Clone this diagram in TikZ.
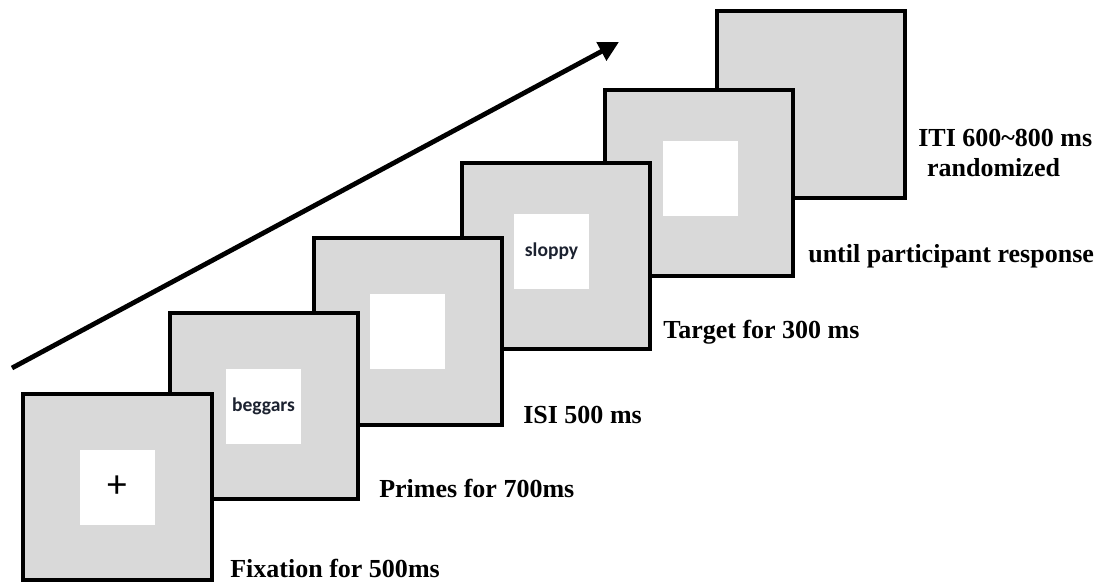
\documentclass[tikz,border=0pt]{standalone}
\usepackage{fontspec}
\setmainfont{Liberation Serif}
\newfontfamily\stimfont{Carlito}
\usetikzlibrary{positioning,arrows.meta,shadows}

\definecolor{scrgray}{HTML}{D9D9D9}
\definecolor{stimtxt}{HTML}{1C2230}

\begin{document}
\begin{tikzpicture}[
    x=0.25mm, y=-0.25mm,
    scr/.style={draw=black, line width=1mm, fill=scrgray, minimum width=47mm, minimum height=46.5mm,
                drop shadow={opacity=0.3, shadow xshift=0.6mm, shadow yshift=-0.6mm}},
    stim/.style={fill=white, minimum size=18.75mm, inner sep=0pt, text=stimtxt,
                 font=\stimfont\bfseries\fontsize{13.9}{16}\selectfont},
    lbl/.style={anchor=base west, inner sep=0pt, font=\bfseries\fontsize{18.5}{20.5}\selectfont},
    flow/.style={-{Triangle[length=5mm, width=5mm]}, line width=1.2mm}
]

    \useasboundingbox (0,0) rectangle (1100,582);

    % Time arrow
    \coordinate (tstart) at (12,368);
    \coordinate (tend) at (619,42);
    \draw[flow] (tstart) -- (tend);

    % Screens, back to front
    \node[scr] (s6) at (810.5,104.5) {};
    \node[scr] (s5) at (698.5,183) {};
    \node[scr] (s4) at (555.5,256) {};
    \node[scr] (s3) at (407.5,331.5) {};
    \node[scr] (s2) at (263.5,406) {};
    \node[scr] (s1) at (117.5,487) {};

    % Stimuli
    \node[stim] (w5) at ([xshift=0.5mm,yshift=1.2mm]s5.center) {};
    \node[stim] (w4) at ([xshift=-1mm,yshift=1.1mm]s4.center) {sloppy};
    \node[stim] (w3) at (s3.center) {};
    \node[stim] (w2) at (s2.center) {beggars};
    \node[stim, font=\stimfont\fontsize{28}{30}\selectfont, text=black] (w1) at (s1.center) {+};

    % Labels
    \node[lbl] (t1) at (230,577) {Fixation for 500ms};
    \node[lbl] (t2) at (379,497) {Primes for 700ms};
    \node[lbl] (t3) at (523,423) {ISI 500 ms};
    \node[lbl] (t4) at (663,338) {Target for 300 ms};
    \node[lbl] (t5) at (808,262) {until participant response};
    \node[lbl, align=left, font=\bfseries\fontsize{18.5}{21.5}\selectfont] (t6) at (918,177)
        {ITI 600\textasciitilde800 ms\\\hspace*{2.2mm}randomized};

\end{tikzpicture}
\end{document}
